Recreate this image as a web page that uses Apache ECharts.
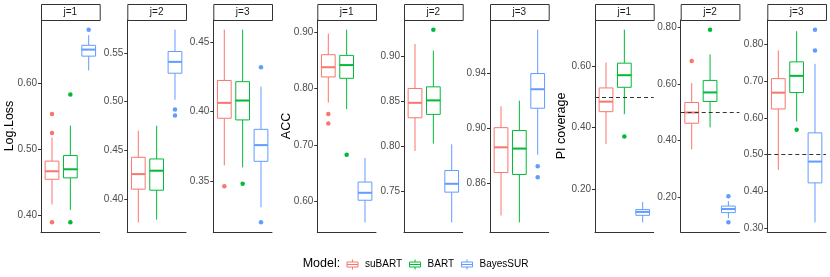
<!DOCTYPE html>
<html>
<head>
<meta charset="utf-8">
<script src="https://cdn.jsdelivr.net/npm/echarts@6.0.0/dist/echarts.min.js"></script>
<style>
html,body{margin:0;padding:0;background:#fff;}
#chart{width:830px;height:277px;}
</style>
</head>
<body>
<div id="chart"></div>
<script>
// ---------------- DATA ----------------
const models = ['suBART', 'BART', 'BayesSUR'];
const metrics = ['Log.Loss', 'ACC', 'PI coverage'];
const facets = ['j=1', 'j=2', 'j=3'];

// box statistics per facet (j=1..3), per model: [lower whisker, Q1, median, Q3, upper whisker]
const logLossStats = [
  [[0.416, 0.4544, 0.4666, 0.482, 0.518], [0.4077, 0.4565, 0.4696, 0.4905, 0.536], [0.6203, 0.642, 0.652, 0.6585, 0.674]],
  [[0.3757, 0.4099, 0.4254, 0.4427, 0.470], [0.3785, 0.4088, 0.4289, 0.441, 0.4752], [0.502, 0.5293, 0.541, 0.5517, 0.5742]],
  [[0.3611, 0.3952, 0.4063, 0.4225, 0.4592], [0.3597, 0.394, 0.408, 0.4216, 0.4592], [0.3309, 0.3641, 0.3758, 0.3872, 0.418]]
];
const logLossOutliers = [
  [[0.554, 0.525, 0.389], [0.5837, 0.3887], [0.6824]],
  [[], [], [0.492, 0.4857]],
  [[0.3461], [0.3478], [0.4321, 0.320]]
];
const accStats = [
  [[0.7747, 0.8202, 0.8374, 0.8596, 0.897], [0.7633, 0.8178, 0.8412, 0.8584, 0.904], [0.5626, 0.6018, 0.615, 0.634, 0.6766]],
  [[0.7944, 0.8314, 0.8481, 0.8641, 0.9137], [0.8026, 0.8352, 0.8508, 0.8659, 0.9063], [0.7148, 0.7485, 0.7578, 0.7726, 0.8019]],
  [[0.8364, 0.8676, 0.8859, 0.9002, 0.9157], [0.8314, 0.8662, 0.885, 0.8981, 0.9198], [0.8805, 0.9143, 0.9281, 0.9395, 0.9714]]
];
const accOutliers = [
  [[0.7545, 0.7379], [0.6822], []],
  [[], [0.9297], []],
  [[], [], [0.8721, 0.8641]]
];
const piStats = [
  [[0.3469, 0.4517, 0.4842, 0.5285, 0.6108], [0.4436, 0.5306, 0.5697, 0.6087, 0.7171], [0.0937, 0.1165, 0.1275, 0.135, 0.160]],
  [[0.3681, 0.4607, 0.4986, 0.5341, 0.6025], [0.446, 0.5376, 0.5695, 0.612, 0.704], [0.125, 0.1447, 0.1574, 0.168, 0.185]],
  [[0.4582, 0.6246, 0.6691, 0.7074, 0.7844], [0.5902, 0.6694, 0.715, 0.7532, 0.837], [0.3149, 0.4227, 0.4809, 0.5593, 0.7478]]
];
const piOutliers = [
  [[], [0.3718], []],
  [[0.6805], [0.7915], [0.2025, 0.1103]],
  [[], [0.5675], [0.8412, 0.7844]]
];
const piReference = 0.5;

// tick labels per panel
const logLossTicks = [[0.40, 0.50, 0.60], [0.40, 0.45, 0.50, 0.55], [0.35, 0.40, 0.45]];
const accTicks = [[0.60, 0.70, 0.80, 0.90], [0.75, 0.80, 0.85, 0.90], [0.86, 0.90, 0.94]];
const piTicks = [[0.20, 0.40, 0.60], [0.20, 0.40, 0.60, 0.80], [0.30, 0.40, 0.50, 0.60, 0.70, 0.80]];

// ---------------- STYLE / LAYOUT ----------------
const colors = ['#F8766D', '#00BA38', '#619CFF'];
const FONT = '"Liberation Sans", Arial, Helvetica, sans-serif';
const panelLeft = [41, 127.3, 213.3, 317.3, 404, 490, 595, 680.7, 767.3];
const panelWidth = 58.7;
const panelTop = 20;
const panelHeight = 212;
const stripTop = 4;
const stripHeight = 16;
const titleX = [10, 286.3, 562];

const allStats = [logLossStats, accStats, piStats];
const allOutliers = [logLossOutliers, accOutliers, piOutliers];
const allTicks = [logLossTicks, accTicks, piTicks];

function renderBox(params, api) {
  const x = api.value(0);
  const lo = api.coord([x, api.value(1)]);
  const q1 = api.coord([x, api.value(2)]);
  const med = api.coord([x, api.value(3)]);
  const q3 = api.coord([x, api.value(4)]);
  const hi = api.coord([x, api.value(5)]);
  const unit = api.size([1, 0])[0];
  const hw = unit * 0.75 / 2;
  const color = api.visual('color');
  const cx = lo[0];
  return {
    type: 'group',
    children: [
      {type: 'line', shape: {x1: cx, y1: lo[1], x2: cx, y2: q1[1]}, style: {stroke: color, lineWidth: 1}},
      {type: 'line', shape: {x1: cx, y1: q3[1], x2: cx, y2: hi[1]}, style: {stroke: color, lineWidth: 1}},
      {type: 'rect', shape: {x: cx - hw, y: q3[1], width: 2 * hw, height: q1[1] - q3[1]}, style: {fill: '#fff', stroke: color, lineWidth: 1}},
      {type: 'line', shape: {x1: cx - hw, y1: med[1], x2: cx + hw, y2: med[1]}, style: {stroke: color, lineWidth: 2}}
    ]
  };
}

const grid = [], xAxis = [], yAxis = [], series = [], graphic = [];

for (let m = 0; m < 3; m++) {
  for (let f = 0; f < 3; f++) {
    const p = m * 3 + f;
    const stats = allStats[m][f];
    const outs = allOutliers[m][f];
    let vals = [];
    stats.forEach(s => vals = vals.concat(s));
    outs.forEach(o => vals = vals.concat(o));
    const lo = Math.min.apply(null, vals), hi = Math.max.apply(null, vals);
    const r = hi - lo;
    grid.push({left: panelLeft[p], top: panelTop, width: panelWidth, height: panelHeight});
    xAxis.push({
      type: 'value', gridIndex: p, min: 0.4, max: 3.6,
      axisLine: {show: true, onZero: false, lineStyle: {color: '#333', width: 1}},
      axisTick: {show: false}, axisLabel: {show: false}, splitLine: {show: false}
    });
    const ticks = allTicks[m][f];
    yAxis.push({
      type: 'value', gridIndex: p, min: lo - 0.05 * r, max: hi + 0.05 * r,
      axisLine: {show: true, onZero: false, lineStyle: {color: '#333', width: 1}},
      axisTick: {show: true, length: 3, customValues: ticks, lineStyle: {color: '#333'}},
      axisLabel: {customValues: ticks, formatter: v => v.toFixed(2), color: '#4D4D4D', fontSize: 10, margin: 4, fontFamily: FONT},
      splitLine: {show: false}
    });
    for (let k = 0; k < 3; k++) {
      const s = {
        type: 'custom', name: models[k], xAxisIndex: p, yAxisIndex: p,
        renderItem: renderBox, encode: {x: 0, y: [1, 2, 3, 4, 5]},
        data: [[k + 1].concat(stats[k])],
        itemStyle: {color: colors[k]}, z: 2, silent: true
      };
      if (m === 2 && k === 2) {
        s.markLine = {
          silent: true, symbol: 'none', label: {show: false}, z: 10,
          lineStyle: {type: [4, 3], color: '#333', width: 1.2},
          data: [{yAxis: piReference}]
        };
      }
      series.push(s);
      series.push({
        type: 'scatter', name: models[k], xAxisIndex: p, yAxisIndex: p,
        data: outs[k].map(v => [k + 1, v]),
        symbolSize: 4.5, itemStyle: {color: colors[k], opacity: 1}, z: 3, silent: true
      });
    }
    // strip
    graphic.push({
      type: 'rect', left: panelLeft[p], top: stripTop,
      shape: {width: panelWidth, height: stripHeight},
      style: {fill: '#fff', stroke: '#333', lineWidth: 1}, silent: true
    });
    graphic.push({
      type: 'text', x: panelLeft[p] + panelWidth / 2, y: stripTop + stripHeight / 2,
      style: {text: facets[f], fill: '#1A1A1A', fontSize: 10, fontFamily: FONT, align: 'center', verticalAlign: 'middle'},
      silent: true
    });
  }
  graphic.push({
    type: 'text', x: titleX[m], y: panelTop + panelHeight / 2, rotation: Math.PI / 2,
    style: {text: metrics[m], fill: '#000', fontSize: 12.5, fontFamily: FONT, align: 'center', verticalAlign: 'middle'},
    silent: true
  });
}

graphic.push({
  type: 'text', x: 302.7, y: 264,
  style: {text: 'Model:', fill: '#000', fontSize: 12.5, fontFamily: FONT, align: 'left', verticalAlign: 'middle'},
  silent: true
});

const iconPath = 'path://M0,2.5L11,2.5L11,7.5L0,7.5Z M0,5L11,5 M5.5,0L5.5,2.5 M5.5,7.5L5.5,10';

const option = {
  animation: false,
  backgroundColor: '#fff',
  grid, xAxis, yAxis, series, graphic,
  legend: {
    left: 346.5, top: 259, orient: 'horizontal', padding: 0,
    itemWidth: 11, itemHeight: 10, itemGap: 7, selectedMode: false,
    textStyle: {fontSize: 10, color: '#000', fontFamily: FONT, padding: [0, 0, 0, 2]},
    data: models.map((name, k) => ({
      name, icon: iconPath,
      itemStyle: {color: '#fff', borderColor: colors[k], borderWidth: 1}
    }))
  }
};

const chart = echarts.init(document.getElementById('chart'), null, {renderer: 'canvas'});
chart.setOption(option);
</script>
</body>
</html>
